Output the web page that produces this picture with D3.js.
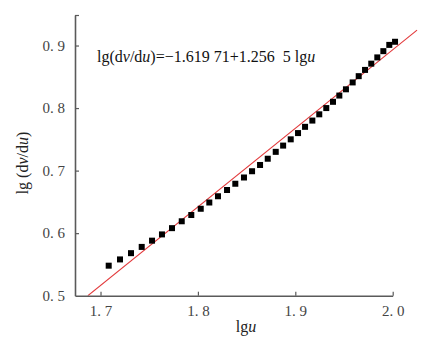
<!DOCTYPE html>
<html><head><meta charset="utf-8">
<script src="https://cdn.jsdelivr.net/npm/d3@7"></script>
<style>body{margin:0;background:#fff}svg{display:block}
text{font-family:"Liberation Serif","DejaVu Serif","Times New Roman",serif !important}</style>
</head><body><svg id="c" width="435" height="342"></svg>
<script>
// data
const lgU = [1.7084,1.7200,1.7313,1.7423,1.7529,1.7631,1.7734,1.7834,1.7932,1.8029,
  1.8117,1.8206,1.8299,1.8384,1.8473,1.8556,1.8638,1.8717,1.8799,1.8875,
  1.8953,1.9028,1.9100,1.9175,1.9246,1.9318,1.9387,1.9452,1.9520,1.9589,
  1.9651,1.9716,1.9780,1.9842,1.9904,1.9965,2.0024];
const lgDvDu = [0.548,0.558,0.568,0.578,0.588,0.598,0.608,0.619,0.629,0.639,
  0.649,0.659,0.669,0.679,0.689,0.699,0.709,0.719,0.730,0.740,
  0.750,0.760,0.770,0.780,0.790,0.800,0.810,0.820,0.830,0.841,
  0.851,0.861,0.871,0.881,0.891,0.901,0.906];
const fitIntercept = -1.61971, fitSlope = 1.2565;
const fitRange = [1.687, 2.025];
const xTicks = [1.7, 1.8, 1.9, 2.0];
const xTickLabels = ["1. 7", "1. 8", "1. 9", "2. 0"];
const yTicks = [0.5, 0.6, 0.7, 0.8, 0.9];
const yTickLabels = ["0. 5", "0. 6", "0. 7", "0. 8", "0. 9"];

const svg = d3.select("#c");
const axisColor = "#5a5a5a";
const x = d3.scaleLinear().domain([1.6738, 2.0]).range([75, 392.7]);
const y = d3.scaleLinear().domain([0.5, 0.9488]).range([295.7, 15]);

// fit line (clipped to plot)
svg.append("defs").append("clipPath").attr("id","clip")
  .append("rect").attr("x",75).attr("y",0).attr("width",360).attr("height",295.7);
const fitPts = fitRange.map(v => [v, fitIntercept + fitSlope * v]);
svg.append("path")
  .attr("clip-path","url(#clip)")
  .attr("d", d3.line().x(d => x(d[0])).y(d => y(d[1]))(fitPts))
  .attr("stroke", "#e2393b").attr("stroke-width", 1.1).attr("fill", "none");

// points
const sz = 6;
svg.append("g").selectAll("rect").data(lgU.map((v,i)=>[v, lgDvDu[i]])).join("rect")
  .attr("x", d => x(d[0]) - sz/2).attr("y", d => y(d[1]) - sz/2)
  .attr("width", sz).attr("height", sz).attr("fill", "#000");

// axes
const xAxis = d3.axisBottom(x).tickValues(xTicks).tickSizeInner(-4).tickSizeOuter(0)
  .tickFormat((d,i) => xTickLabels[i]).tickPadding(10);
const gx = svg.append("g").attr("transform", "translate(0,295.7)").call(xAxis);
const yAxis = d3.axisLeft(y).tickValues(yTicks.concat([0.9488])).tickSizeInner(-4).tickSizeOuter(0)
  .tickFormat((d,i) => i < yTickLabels.length ? yTickLabels[i] : "").tickPadding(10);
const gy = svg.append("g").attr("transform", "translate(75,0)").call(yAxis);
[gx, gy].forEach(g => {
  g.attr("font-family", null);
  g.selectAll(".domain").attr("stroke", axisColor).attr("stroke-width", 1.6);
  g.selectAll(".tick line").attr("stroke", axisColor).attr("stroke-width", 1.2);
  g.selectAll(".tick text").attr("fill", "#444").attr("font-size", 15);
});
gy.selectAll(".tick").filter(d => d === 0.5).select("line").remove();

// axis titles
const xt = svg.append("text").attr("x", 246).attr("y", 332).attr("text-anchor", "middle")
  .attr("font-size", 16).attr("fill", "#222");
xt.append("tspan").text("lg");
xt.append("tspan").attr("font-style", "italic").text("u");

const yt = svg.append("text").attr("transform", "translate(28,163) rotate(-90)")
  .attr("text-anchor", "middle").attr("font-size", 16).attr("fill", "#222");
yt.append("tspan").text("lg (d");
yt.append("tspan").attr("font-style", "italic").text("v");
yt.append("tspan").text("/d");
yt.append("tspan").attr("font-style", "italic").text("u");
yt.append("tspan").text(")");

// equation
const eq = svg.append("text").attr("x", 97).attr("y", 62)
  .attr("font-size", 16).attr("fill", "#111").attr("xml:space", "preserve");
eq.append("tspan").text("lg(d");
eq.append("tspan").attr("font-style", "italic").text("v");
eq.append("tspan").text("/d");
eq.append("tspan").attr("font-style", "italic").text("u");
eq.append("tspan").text(")=\u22121.619 71+1.256\u00a0\u00a05 lg");
eq.append("tspan").attr("font-style", "italic").text("u");
</script></body></html>
